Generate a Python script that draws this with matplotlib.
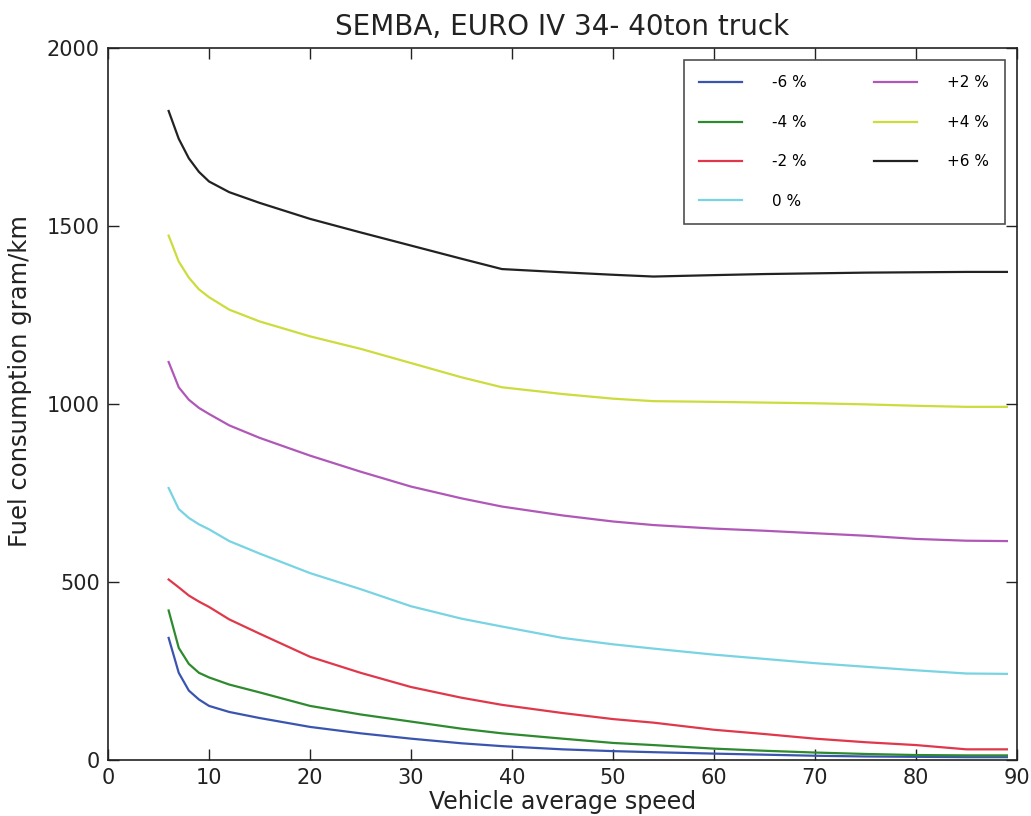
import matplotlib
matplotlib.use('Agg')
import matplotlib.pyplot as plt

# speed (km/h)
speed = [6, 7, 8, 9, 10, 12, 15, 20, 25, 30, 35, 39, 45, 50, 54, 60, 65, 70, 75, 80, 85, 89]

# fuel consumption gram/km for each road gradient
minus6 = [343, 245, 195, 170, 152, 135, 118, 93, 75, 60, 47, 39, 30, 25, 22, 18, 15, 12, 10, 9, 8, 8]
minus4 = [420, 315, 270, 245, 232, 212, 190, 152, 128, 108, 88, 75, 60, 48, 42, 32, 26, 21, 17, 14, 13, 13]
minus2 = [507, 485, 462, 445, 430, 395, 355, 290, 245, 205, 175, 155, 132, 115, 105, 85, 73, 60, 50, 42, 30, 30]
zero = [764, 705, 680, 662, 648, 615, 580, 525, 480, 432, 397, 375, 343, 325, 313, 296, 284, 272, 262, 252, 243, 242]
plus2 = [1118, 1047, 1012, 989, 972, 940, 905, 855, 810, 768, 735, 712, 687, 670, 660, 650, 644, 637, 630, 621, 616, 615]
plus4 = [1473, 1400, 1355, 1322, 1300, 1265, 1232, 1190, 1155, 1115, 1075, 1047, 1028, 1015, 1008, 1006, 1004, 1002, 999, 995, 992, 992]
plus6 = [1823, 1745, 1690, 1652, 1625, 1595, 1565, 1520, 1482, 1445, 1408, 1379, 1370, 1363, 1358, 1362, 1365, 1367, 1369, 1370, 1371, 1371]

series = [minus6, minus4, minus2, zero, plus2, plus4, plus6]
labels = ['-6 %', '-4 %', '-2 %', '0 %', '+2 %', '+4 %', '+6 %']
colors = ['#3a55b0', '#2e8a2e', '#e0384a', '#78d4e2', '#b058b8', '#ccdc3c', '#222222']

fig = plt.figure(figsize=(10.31, 8.16), dpi=100)
ax = fig.add_axes([0.1048, 0.0686, 0.8816, 0.8726])

for vals, lab, col in zip(series, labels, colors):
    ax.plot(speed, vals, color=col, linewidth=1.6, label=lab)

ax.set_xlim(0, 90)
ax.set_ylim(0, 2000)
ax.set_xticks(range(0, 91, 10))
ax.set_yticks(range(0, 2001, 500))
ax.tick_params(direction='in', top=True, right=True, length=8, width=1,
               labelsize=15, pad=6, colors='#222222')
for sp in ax.spines.values():
    sp.set_color('#222222')
    sp.set_linewidth(1.2)

ax.set_title('SEMBA, EURO IV 34- 40ton truck', fontsize=20, color='#222222', pad=9)
ax.set_xlabel('Vehicle average speed', fontsize=17, color='#222222', labelpad=1)
ax.set_ylabel('Fuel consumption gram/km', fontsize=17.5, color='#222222')
ax.yaxis.set_label_coords(-0.084, 0.532)

leg = ax.legend(loc='upper right', ncol=2, fontsize=11, fancybox=False,
                handlelength=2.8, handletextpad=2.0, labelspacing=1.6,
                columnspacing=4.4, borderpad=1.0, borderaxespad=0.8)
leg.get_frame().set_edgecolor('#222222')
leg.get_frame().set_linewidth(1.2)

fig.savefig('out.png', dpi=100)
